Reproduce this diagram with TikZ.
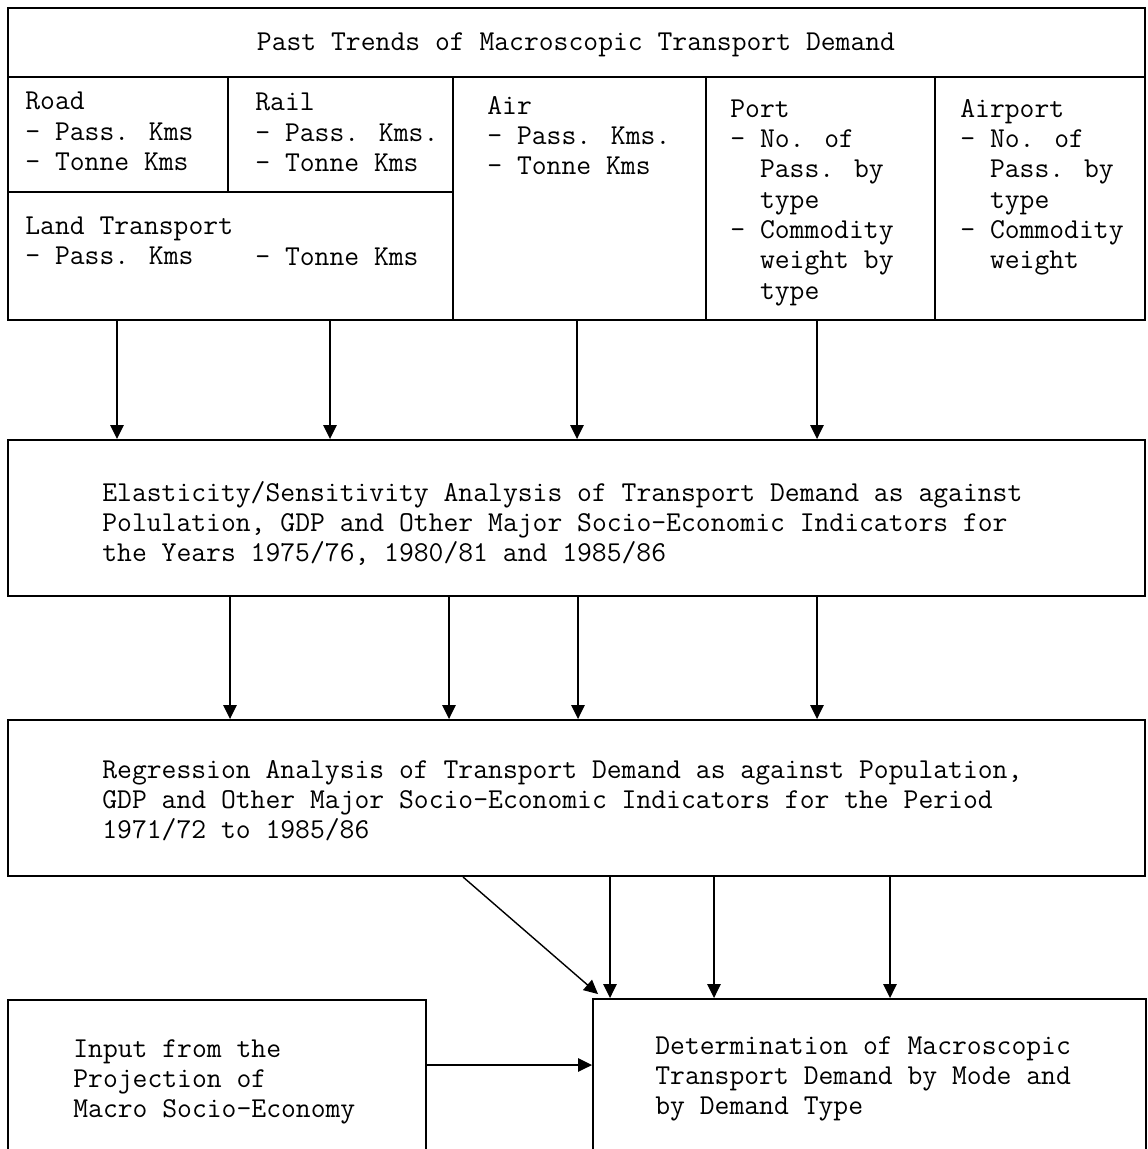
\documentclass[tikz,border=0pt]{standalone}
\usepackage{fontspec}
\usetikzlibrary{arrows.meta,calc,fit}
\newcommand\indnt{\phantom{xx}}
\newcommand\celltext[1]{\begin{tabular}[t]{@{}l@{}}#1\end{tabular}}

\begin{document}
\begin{tikzpicture}[x=0.02cm,y=-0.02cm,
  cell/.style={draw=black,line width=1.1pt,inner sep=0pt},
  txt/.style={anchor=base west,inner sep=0pt,font=\ttfamily\fontsize{16.4}{17.3}\selectfont},
  arr/.style={line width=0.8pt,-{Triangle[length=0.28cm,width=0.27cm]}}]
\useasboundingbox (0,0) rectangle (1147,1149);

\node[cell,fit={(8,8) (1145,77)}] (title) {};
\node[cell,fit={(8,77) (228,192)}] (road) {};
\node[cell,fit={(228,77) (453,192)}] (rail) {};
\node[cell,fit={(8,192) (453,320)}] (land) {};
\node[cell,fit={(453,77) (706,320)}] (air) {};
\node[cell,fit={(706,77) (935,320)}] (port) {};
\node[cell,fit={(935,77) (1145,320)}] (airport) {};
\node[cell,fit={(8,440) (1145,596)}] (elast) {};
\node[cell,fit={(8,720) (1145,876)}] (regr) {};
\node[cell,fit={(8,1000) (426,1152)}] (input) {};
\node[cell,fit={(593,999) (1146,1152)}] (determ) {};

\node[txt,anchor=base] (titletxt) at (576,51) {Past Trends of Macroscopic Transport Demand};
\node[txt] (roadtxt) at (25,110) {\celltext{Road\\- Pass. Kms\\- Tonne Kms}};
\node[txt] (railtxt) at (255,111) {\celltext{Rail\\- Pass. Kms.\\- Tonne Kms}};
\node[txt] (landtxt) at (25,234) {\celltext{Land Transport\\- Pass. Kms}};
\node[txt] (landtonne) at (255,265) {- Tonne Kms};
\node[txt] (airtxt) at (487,114) {\celltext{Air\\- Pass. Kms.\\- Tonne Kms}};
\node[txt] (porttxt) at (730,117) {\celltext{Port\\- No. of\\\indnt Pass. by\\\indnt type\\- Commodity\\\indnt weight by\\\indnt type}};
\node[txt] (airporttxt) at (960,117) {\celltext{Airport\\- No. of\\\indnt Pass. by\\\indnt type\\- Commodity\\\indnt weight}};
\node[txt] (elasttxt) at (102,501) {\celltext{Elasticity/Sensitivity Analysis of Transport Demand as against\\Polulation, GDP and Other Major Socio-Economic Indicators for\\the Years 1975/76, 1980/81 and 1985/86}};
\node[txt] (regrtxt) at (102,778) {\celltext{Regression Analysis of Transport Demand as against Population,\\GDP and Other Major Socio-Economic Indicators for the Period\\1971/72 to 1985/86}};
\node[txt] (inputtxt) at (73,1057) {\celltext{Input from the\\Projection of\\Macro Socio-Economy}};
\node[txt] (determtxt) at (655,1054) {\celltext{Determination of Macroscopic\\Transport Demand by Mode and\\by Demand Type}};

\coordinate (a1) at (117,0);
\coordinate (a2) at (330,0);
\coordinate (a3) at (577,0);
\coordinate (a4) at (817,0);
\coordinate (b1) at (230,0);
\coordinate (b2) at (449,0);
\coordinate (b3) at (578,0);
\coordinate (b4) at (817,0);
\coordinate (d0) at (463,0);
\coordinate (d1) at (610,0);
\coordinate (d2) at (714,0);
\coordinate (d3) at (890,0);
\coordinate (h) at (0,1065);

\foreach \c/\s in {a1/land,a2/land,a3/air,a4/port}
  \draw[arr] (\c |- \s.south) -- (\c |- elast.north);
\foreach \c in {b1,b2,b3,b4}
  \draw[arr] (\c |- elast.south) -- (\c |- regr.north);
\foreach \c in {d1,d2,d3}
  \draw[arr] (\c |- regr.south) -- (\c |- determ.north);
\draw[arr] (d0 |- regr.south) -- ($(determ.north west)+(6,-4)$);
\draw[arr] (h -| input.east) -- (h -| determ.west);

\end{tikzpicture}
\end{document}
